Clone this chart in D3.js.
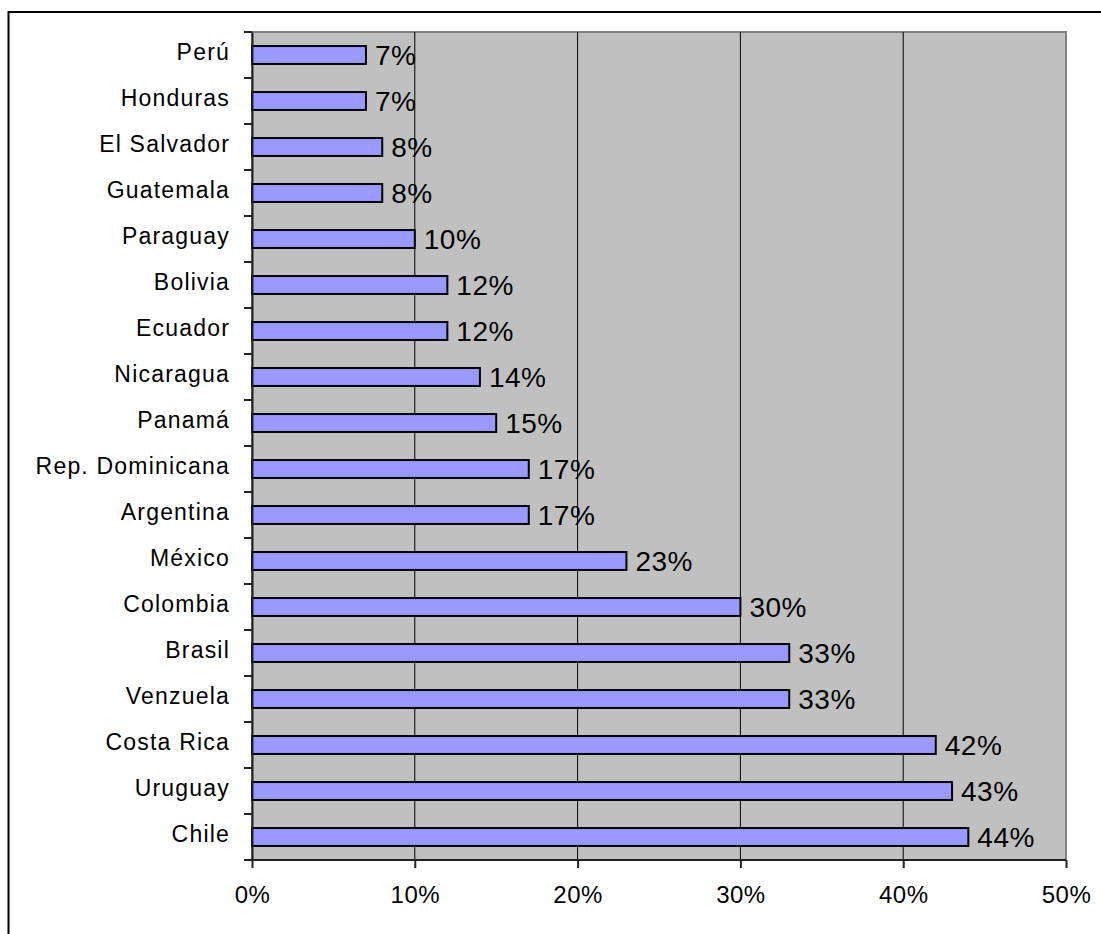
<!DOCTYPE html>
<html><head><meta charset="utf-8">
<script src="https://cdn.jsdelivr.net/npm/d3@7"></script>
<style>body{margin:0;background:#fff;}svg{display:block;font-family:"Liberation Sans",Arial,sans-serif;}</style>
</head><body>
<svg id="c" width="1101" height="934"></svg>
<script>
const countries = ["Perú","Honduras","El Salvador","Guatemala","Paraguay","Bolivia","Ecuador","Nicaragua","Panamá","Rep. Dominicana","Argentina","México","Colombia","Brasil","Venzuela","Costa Rica","Uruguay","Chile"];
const values = [7,7,8,8,10,12,12,14,15,17,17,23,30,33,33,42,43,44];
const xTicks = [0,10,20,30,40,50];

const svg = d3.select("#c");
const L = 252, R = 1066, T = 32, B = 860;
const x = d3.scaleLinear().domain([0,50]).range([L,R]);
const y = d3.scaleBand().domain(countries).range([T,B]).paddingInner(0.61).paddingOuter(0.305);
const yb = d3.scaleBand().domain(countries).range([T,B]);

// outer border
svg.append("rect").attr("x",8.5).attr("y",12).attr("width",1200).attr("height",1000)
  .attr("fill","none").attr("stroke","#000").attr("stroke-width",2);

// plot area
svg.append("rect").attr("x",L).attr("y",T).attr("width",R-L).attr("height",B-T)
  .attr("fill","#C0C0C0").attr("stroke","#808080").attr("stroke-width",2);

// gridlines
svg.append("g").selectAll("line").data(xTicks.slice(1,-1)).join("line")
  .attr("x1",d=>x(d)).attr("x2",d=>x(d)).attr("y1",T).attr("y2",B)
  .attr("stroke","#000").attr("stroke-width",1);

// bars
svg.append("g").selectAll("rect").data(countries).join("rect")
  .attr("x",x(0)).attr("y",d=>y(d)).attr("width",(d,i)=>x(values[i])-x(0)).attr("height",y.bandwidth())
  .attr("fill","#9999FF").attr("stroke","#000").attr("stroke-width",2);

// value labels
svg.append("g").selectAll("text").data(countries).join("text")
  .attr("x",(d,i)=>x(values[i])+9).attr("y",d=>yb(d)+yb.bandwidth()/2+10)
  .attr("font-size",28).attr("letter-spacing","0.5px").attr("fill","#000").text((d,i)=>values[i]+"%");

// y axis
const yAxis = d3.axisLeft(yb).tickSize(0).tickPadding(22);
const gy = svg.append("g").attr("transform",`translate(${L},0)`).call(yAxis);
gy.select(".domain").attr("stroke","#222").attr("stroke-width",2);
gy.selectAll("text").attr("font-size",23).attr("letter-spacing","1.2px").attr("font-family","'Liberation Sans',Arial,sans-serif").attr("fill","#000").attr("dy","0.23em");
// boundary ticks
const bounds = countries.map(c=>yb(c)).concat([B]);
svg.append("g").selectAll("line").data(bounds).join("line")
  .attr("x1",L-8).attr("x2",L).attr("y1",d=>d).attr("y2",d=>d).attr("stroke","#222").attr("stroke-width",2);

// x axis
const xAxis = d3.axisBottom(x).tickValues(xTicks).tickSize(8).tickPadding(18).tickFormat(d=>d+"%");
const gx = svg.append("g").attr("transform",`translate(0,${B})`).call(xAxis);
gx.select(".domain").attr("stroke","#222").attr("stroke-width",2).attr("d",`M${L},0H${R}`);
gx.selectAll(".tick line").attr("stroke","#222").attr("stroke-width",2);
gx.selectAll("text").attr("font-size",24).attr("letter-spacing","0.5px").attr("font-family","'Liberation Sans',Arial,sans-serif").attr("fill","#000");
</script>
</body></html>
